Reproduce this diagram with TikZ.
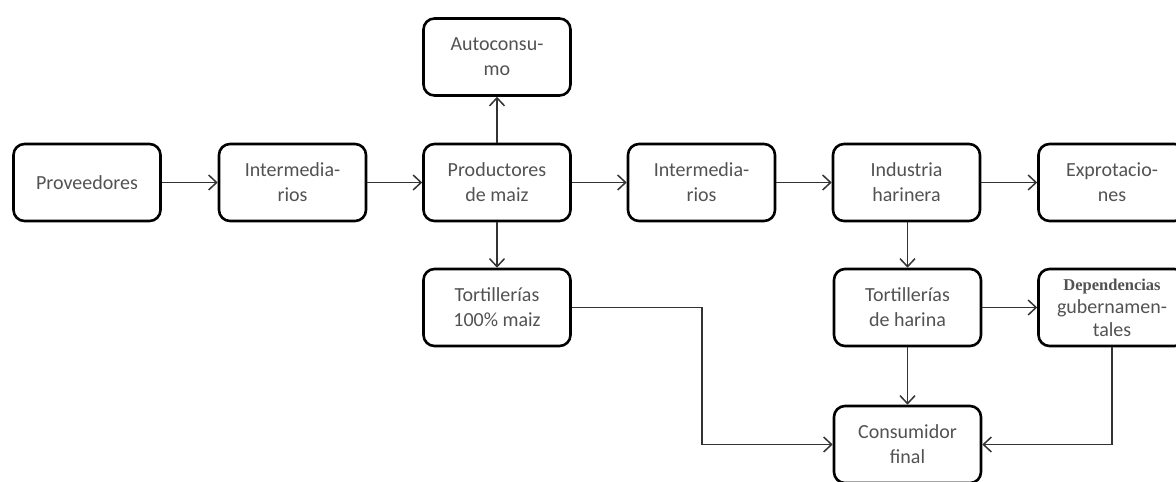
\documentclass[tikz,border=0pt]{standalone}
\usepackage{fontspec}
\setmainfont{Carlito}
\newfontfamily\depfont{Liberation Serif}
\usetikzlibrary{arrows.meta}
\begin{document}
\begin{tikzpicture}[x=1pt,y=-1pt,
  box/.style={draw=black,line width=2.6pt,rounded corners=11pt,minimum width=147pt,minimum height=77pt,align=center,font=\fontsize{20}{25}\selectfont,text=black!68,inner sep=0pt},
  arr/.style={draw=black!80,line width=1.5pt,-{Straight Barb[length=8pt,width=15pt,line width=1.5pt]}}]
\useasboundingbox (0,0) rectangle (1176,482);
\clip (0,0) rectangle (1176,482);
\node[box] (prov) at (87,182.5) {Proveedores};
\node[box] (int1) at (292.5,182.5) {Intermedia-\\rios};
\node[box] (prod) at (497,182.5) {Productores\\de maiz};
\node[box] (auto) at (497,57) {Autoconsu-\\mo};
\node[box] (int2) at (701.5,182.5) {Intermedia-\\rios};
\node[box] (ind) at (906.5,182.5) {Industria\\harinera};
\node[box] (exp) at (1112,182.5) {Exprotacio-\\nes};
\node[box] (t100) at (497,307.5) {Tortillerías\\100\% maiz};
\node[box] (thar) at (907.5,307.5) {Tortillerías\\de harina};
\node[box,font=\fontsize{20}{23}\selectfont] (dep) at (1112,307.5) {{\depfont\bfseries\fontsize{16.5}{23}\selectfont Dependencias}\\gubernamen-\\tales};
\node[box] (cons) at (907.5,444.5) {Consumidor\\final};
\draw[arr] (prov) -- (int1);
\draw[arr] (int1) -- (prod);
\draw[arr] (prod) -- (auto);
\draw[arr] (prod) -- (int2);
\draw[arr] (prod) -- (t100);
\draw[arr] (int2) -- (ind);
\draw[arr] (ind) -- (exp);
\draw[arr] (ind.south -| thar.north) -- (thar);
\draw[arr] (thar) -- (dep);
\draw[arr] (thar) -- (cons);
\draw[arr] (t100.east) -- ++(130,0) |- (cons.west);
\draw[arr] (dep.south) |- (cons.east);
\end{tikzpicture}
\end{document}
